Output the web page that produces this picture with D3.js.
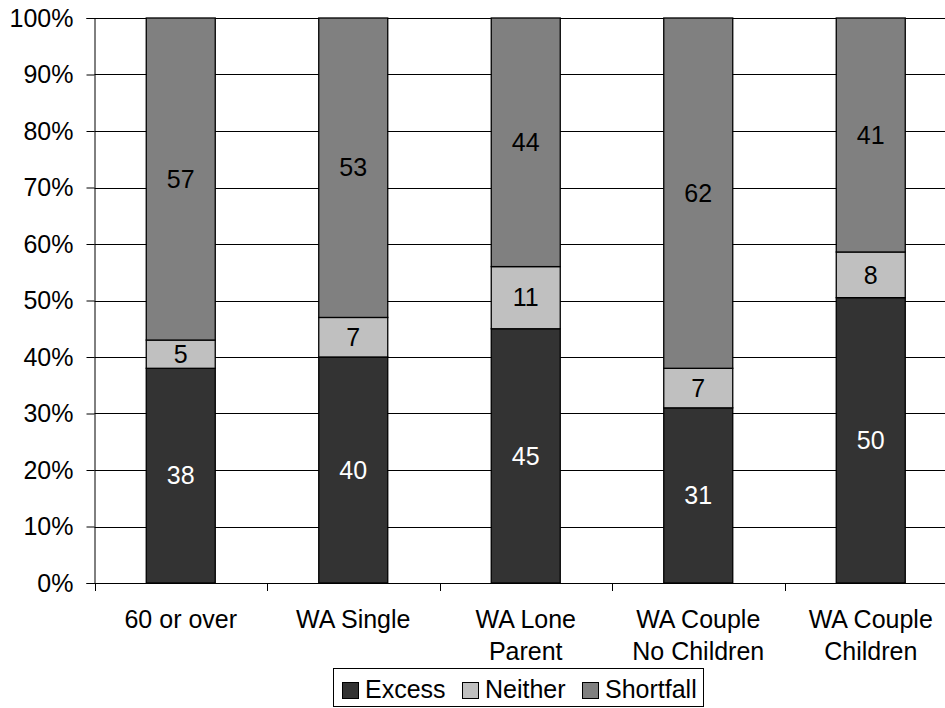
<!DOCTYPE html>
<html>
<head>
<meta charset="utf-8">
<script src="https://cdn.jsdelivr.net/npm/d3@7"></script>
<style>
  html, body { margin: 0; padding: 0; background: #fff; }
  svg { display: block; font-family: "Liberation Sans", Arial, sans-serif; }
</style>
</head>
<body>
<svg id="chart" width="945" height="708"></svg>
<script>
// Household groups and the share in each outcome
const categories = [["60 or over"], ["WA Single"], ["WA Lone", "Parent"], ["WA Couple", "No Children"], ["WA Couple", "Children"]];
const seriesNames = ["Excess", "Neither", "Shortfall"];
const excess = [38, 40, 45, 31, 50];
const neither = [5, 7, 11, 7, 8];
const shortfall = [57, 53, 44, 62, 41];
const yTicks = [0, 0.1, 0.2, 0.3, 0.4, 0.5, 0.6, 0.7, 0.8, 0.9, 1.0];
const colors = ["#333333", "#c0c0c0", "#808080"];
const labelColors = ["#ffffff", "#000000", "#000000"];

const fontSize = 25;
const svg = d3.select("#chart");
const plotLeft = 94.5, plotTop = 18, plotBottom = 583;
const bandW = 172.5;

const x = d3.scaleBand()
  .domain(d3.range(categories.length))
  .range([plotLeft, plotLeft + bandW * categories.length])
  .paddingInner(0.6).paddingOuter(0.3);
// outer band edges for category ticks
const xEdge = d3.scaleLinear().domain([0, categories.length]).range([plotLeft, plotLeft + bandW * categories.length]);
const y = d3.scaleLinear().domain([0, 1]).range([plotBottom, plotTop]);

const rows = categories.map((c, i) => ({ i, Excess: excess[i], Neither: neither[i], Shortfall: shortfall[i] }));
const stacked = d3.stack().keys(seriesNames).offset(d3.stackOffsetExpand)(rows);

// gridlines
svg.append("g").selectAll("line").data(yTicks).join("line")
  .attr("x1", plotLeft).attr("x2", 945)
  .attr("y1", d => Math.round(y(d)) + 0.5).attr("y2", d => Math.round(y(d)) + 0.5)
  .attr("stroke", "#000").attr("stroke-width", 1);

// y axis
const yAxis = svg.append("g").attr("transform", `translate(${plotLeft},0)`)
  .call(d3.axisLeft(y).tickValues(yTicks).tickFormat(d3.format(".0%")).tickSize(8).tickPadding(13));
yAxis.attr("font-size", fontSize).attr("font-family", "'Liberation Sans', Arial, sans-serif");
yAxis.select(".domain").attr("stroke", "#000");
yAxis.selectAll(".tick line").attr("stroke", "#000");
yAxis.selectAll(".tick text").attr("fill", "#000");

// x axis baseline and category ticks
svg.append("line").attr("x1", plotLeft).attr("x2", 945)
  .attr("y1", plotBottom + 0.5).attr("y2", plotBottom + 0.5).attr("stroke", "#000");
svg.append("g").selectAll("line").data(d3.range(categories.length + 1)).join("line")
  .attr("x1", d => Math.round(xEdge(d)) + 0.5).attr("x2", d => Math.round(xEdge(d)) + 0.5)
  .attr("y1", plotBottom).attr("y2", plotBottom + 8).attr("stroke", "#000");

// stacked bars
const layers = svg.append("g").selectAll("g").data(stacked).join("g")
  .attr("fill", (d, k) => colors[k]);
layers.selectAll("rect").data(d => d).join("rect")
  .attr("x", (d, i) => x(i))
  .attr("width", x.bandwidth())
  .attr("y", d => y(d[1]))
  .attr("height", d => y(d[0]) - y(d[1]))
  .attr("stroke", "#000").attr("stroke-width", 1.3);

// value labels
stacked.forEach((layer, k) => {
  svg.append("g").selectAll("text").data(layer).join("text")
    .attr("x", (d, i) => x(i) + x.bandwidth() / 2)
    .attr("y", d => y((d[0] + d[1]) / 2))
    .attr("dy", "0.35em")
    .attr("text-anchor", "middle")
    .attr("font-size", fontSize)
    .attr("fill", labelColors[k])
    .text(d => d.data[seriesNames[k]]);
});

// category labels
const cat = svg.append("g").selectAll("text").data(categories).join("text")
  .attr("x", (d, i) => x(i) + x.bandwidth() / 2)
  .attr("y", 628)
  .attr("text-anchor", "middle")
  .attr("font-size", fontSize)
  .attr("fill", "#000");
cat.selectAll("tspan").data(d => d).join("tspan")
  .attr("x", function () { return this.parentNode.getAttribute("x"); })
  .attr("dy", (d, j) => j === 0 ? 0 : 32)
  .text(d => d);

// legend
const legend = svg.append("g");
legend.append("rect").attr("x", 333.5).attr("y", 668.5).attr("width", 370).attr("height", 38)
  .attr("fill", "#fff").attr("stroke", "#000");
const legendX = [342, 462, 582];
seriesNames.forEach((name, k) => {
  legend.append("rect").attr("x", legendX[k] + 0.5).attr("y", 682.5).attr("width", 16).attr("height", 16)
    .attr("fill", colors[k]).attr("stroke", "#000");
  legend.append("text").attr("x", legendX[k] + 23).attr("y", 698)
    .attr("font-size", fontSize).attr("fill", "#000").text(name);
});
</script>
</body>
</html>
